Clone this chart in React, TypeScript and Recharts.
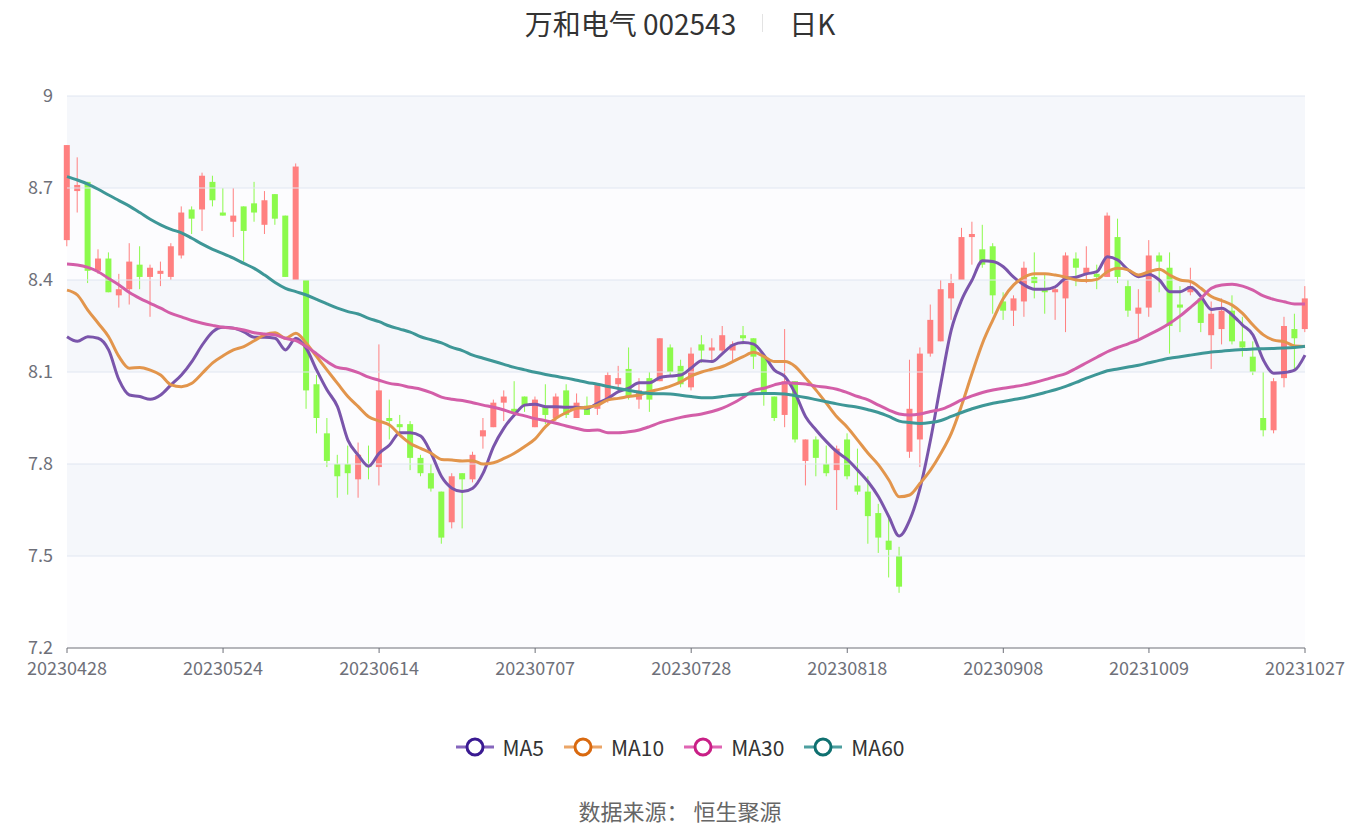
import { ComposedChart, Bar, Line, XAxis, YAxis, ReferenceArea, ReferenceLine } from 'recharts';

const open = [
  8.53, 8.69, 8.72, 8.43, 8.47, 8.35, 8.37, 8.45, 8.41, 8.42,
  8.41, 8.48, 8.63, 8.63, 8.72, 8.62, 8.59, 8.64, 8.65, 8.58,
  8.68, 8.61, 8.40, 8.40, 8.06, 7.90, 7.80, 7.80, 7.75, 7.80,
  7.79, 7.95, 7.93, 7.93, 7.82, 7.77, 7.71, 7.61, 7.77, 7.75,
  7.89, 7.92, 8.00, 7.98, 8.02, 7.92, 7.99, 7.95, 8.04, 7.95,
  7.99, 7.98, 8.01, 8.06, 8.11, 8.01, 8.08, 8.07, 8.18, 8.12,
  8.05, 8.19, 8.17, 8.17, 8.17, 8.22, 8.21, 8.15, 8.02, 7.96,
  8.07, 7.81, 7.88, 7.80, 7.78, 7.88, 7.73, 7.71, 7.64, 7.55,
  7.50, 7.84, 7.88, 8.16, 8.20, 8.34, 8.40, 8.54, 8.50, 8.51,
  8.33, 8.30, 8.33, 8.41, 8.37, 8.36, 8.34, 8.47, 8.42, 8.42,
  8.41, 8.54, 8.38, 8.29, 8.31, 8.48, 8.44, 8.32, 8.36, 8.34,
  8.22, 8.24, 8.30, 8.20, 8.15, 7.95, 7.91, 8.08, 8.24, 8.24,
];
const close = [
  8.84, 8.71, 8.43, 8.47, 8.36, 8.37, 8.46, 8.41, 8.44, 8.43,
  8.51, 8.62, 8.60, 8.74, 8.66, 8.61, 8.61, 8.56, 8.62, 8.66,
  8.60, 8.41, 8.77, 8.04, 7.95, 7.81, 7.76, 7.77, 7.83, 7.79,
  8.04, 7.94, 7.92, 7.82, 7.77, 7.72, 7.56, 7.76, 7.75, 7.83,
  7.91, 8.00, 8.02, 7.97, 7.99, 8.01, 7.96, 8.02, 7.96, 8.00,
  7.96, 8.06, 8.09, 8.08, 8.02, 8.04, 8.01, 8.21, 8.10, 8.06,
  8.16, 8.17, 8.18, 8.22, 8.19, 8.21, 8.15, 8.03, 7.95, 8.07,
  7.88, 7.88, 7.82, 7.77, 7.85, 7.76, 7.71, 7.63, 7.56, 7.52,
  7.40, 7.98, 8.16, 8.27, 8.37, 8.39, 8.54, 8.55, 8.45, 8.35,
  8.30, 8.34, 8.44, 8.39, 8.36, 8.37, 8.48, 8.44, 8.44, 8.41,
  8.61, 8.41, 8.30, 8.31, 8.48, 8.46, 8.25, 8.31, 8.38, 8.26,
  8.29, 8.30, 8.20, 8.18, 8.10, 7.91, 8.07, 8.25, 8.21, 8.34,
];
const high = [
  8.84, 8.80, 8.72, 8.50, 8.49, 8.42, 8.52, 8.51, 8.45, 8.46,
  8.52, 8.64, 8.64, 8.75, 8.74, 8.70, 8.70, 8.64, 8.72, 8.69,
  8.68, 8.61, 8.78, 8.40, 8.09, 7.95, 7.83, 7.86, 7.87, 7.86,
  8.19, 8.01, 7.96, 7.94, 7.83, 7.80, 7.71, 7.77, 7.77, 7.84,
  7.95, 8.01, 8.04, 8.07, 8.02, 8.02, 8.06, 8.03, 8.06, 8.03,
  8.02, 8.06, 8.10, 8.12, 8.18, 8.08, 8.10, 8.21, 8.19, 8.14,
  8.18, 8.22, 8.21, 8.25, 8.20, 8.25, 8.21, 8.15, 8.02, 8.24,
  8.07, 7.88, 7.89, 7.86, 7.86, 7.90, 7.85, 7.76, 7.67, 7.63,
  7.53, 8.14, 8.18, 8.32, 8.40, 8.42, 8.57, 8.59, 8.58, 8.52,
  8.36, 8.35, 8.46, 8.49, 8.42, 8.38, 8.49, 8.49, 8.51, 8.45,
  8.62, 8.60, 8.40, 8.37, 8.53, 8.49, 8.49, 8.38, 8.44, 8.35,
  8.33, 8.34, 8.35, 8.28, 8.20, 8.10, 8.08, 8.28, 8.29, 8.38,
];
const low = [
  8.51, 8.62, 8.39, 8.42, 8.36, 8.31, 8.32, 8.37, 8.28, 8.38,
  8.40, 8.47, 8.55, 8.56, 8.64, 8.61, 8.54, 8.46, 8.59, 8.55,
  8.58, 8.41, 8.40, 7.98, 7.90, 7.79, 7.69, 7.70, 7.69, 7.75,
  7.73, 7.88, 7.90, 7.78, 7.76, 7.71, 7.54, 7.59, 7.59, 7.74,
  7.85, 7.92, 7.94, 7.965, 7.97, 7.92, 7.93, 7.94, 7.95, 7.95,
  7.96, 7.96, 8.00, 8.04, 8.01, 7.98, 7.97, 8.07, 8.09, 8.05,
  8.04, 8.13, 8.13, 8.16, 8.13, 8.19, 8.11, 7.99, 7.94, 7.92,
  7.87, 7.73, 7.76, 7.76, 7.65, 7.75, 7.70, 7.54, 7.51, 7.43,
  7.38, 7.82, 7.79, 8.15, 8.20, 8.27, 8.40, 8.45, 8.44, 8.29,
  8.27, 8.25, 8.28, 8.34, 8.29, 8.27, 8.23, 8.38, 8.39, 8.37,
  8.41, 8.39, 8.28, 8.21, 8.28, 8.36, 8.16, 8.23, 8.35, 8.23,
  8.11, 8.19, 8.19, 8.15, 8.09, 7.89, 7.90, 8.05, 8.11, 8.23,
];

const ma5 = [
  8.215, 8.2, 8.215, 8.21, 8.172, 8.074, 8.025, 8.02, 8.011, 8.025,
  8.058, 8.09, 8.134, 8.188, 8.231, 8.246, 8.243, 8.231, 8.213, 8.213,
  8.21, 8.172, 8.21, 8.177, 8.106, 8.041, 7.987, 7.878, 7.829, 7.793,
  7.835, 7.862, 7.902, 7.902, 7.891, 7.835, 7.759, 7.721, 7.71, 7.721,
  7.77, 7.857, 7.917, 7.96, 7.992, 7.995, 7.987, 7.987, 7.985, 7.985,
  7.982, 7.998, 8.014, 8.036, 8.047, 8.065, 8.065, 8.082, 8.087, 8.09,
  8.113, 8.137, 8.134, 8.16, 8.188, 8.196, 8.191, 8.155, 8.106, 8.085,
  8.03, 7.954, 7.911, 7.873, 7.84, 7.815, 7.78, 7.742, 7.693, 7.628,
  7.565, 7.617, 7.721, 7.878, 8.063, 8.237, 8.335, 8.4, 8.463, 8.46,
  8.443, 8.409, 8.384, 8.37, 8.37, 8.378, 8.405, 8.409, 8.42, 8.427,
  8.476, 8.465, 8.433, 8.411, 8.418, 8.4, 8.362, 8.362, 8.376, 8.346,
  8.304, 8.308, 8.286, 8.253, 8.221, 8.139, 8.096, 8.098, 8.106, 8.155,
];
const ma10 = [
  8.367, 8.351, 8.302, 8.259, 8.215, 8.15, 8.112, 8.115, 8.106, 8.09,
  8.058, 8.052, 8.063, 8.096, 8.13, 8.153, 8.172, 8.183, 8.202, 8.221,
  8.228, 8.21, 8.226, 8.194, 8.15, 8.106, 8.063, 8.02, 7.987, 7.954,
  7.94, 7.927, 7.894, 7.867, 7.851, 7.835, 7.815, 7.813, 7.81, 7.811,
  7.8, 7.804, 7.818, 7.835, 7.857, 7.882, 7.922, 7.949, 7.968, 7.982,
  7.985, 7.992, 8.009, 8.014, 8.02, 8.025, 8.036, 8.044, 8.054, 8.068,
  8.087, 8.1, 8.109, 8.118, 8.134, 8.15, 8.164, 8.15, 8.134, 8.134,
  8.118, 8.08, 8.041, 7.998, 7.954, 7.92, 7.878, 7.835, 7.797, 7.748,
  7.693, 7.699, 7.737, 7.78, 7.835, 7.9, 7.992, 8.096, 8.194, 8.27,
  8.34, 8.384, 8.409, 8.42, 8.42, 8.416, 8.409, 8.4, 8.398, 8.402,
  8.427, 8.438, 8.433, 8.416, 8.427, 8.435, 8.416, 8.4, 8.395, 8.373,
  8.346, 8.333, 8.318, 8.291, 8.253, 8.221, 8.204, 8.199, 8.185, 8.183,
];
const ma30 = [
  8.452, 8.449, 8.441, 8.427, 8.405, 8.384, 8.359, 8.34, 8.324, 8.308,
  8.291, 8.28, 8.268, 8.259, 8.252, 8.246, 8.243, 8.237, 8.228, 8.224,
  8.221, 8.21, 8.202, 8.183, 8.159, 8.134, 8.115, 8.109, 8.098, 8.083,
  8.073, 8.063, 8.058, 8.05, 8.044, 8.033, 8.018, 8.011, 8.007, 8.0,
  7.992, 7.985, 7.976, 7.965, 7.957, 7.948, 7.941, 7.933, 7.924, 7.916,
  7.909, 7.911, 7.902, 7.902, 7.905, 7.911, 7.922, 7.935, 7.944, 7.952,
  7.958, 7.963, 7.971, 7.982, 7.998, 8.018, 8.04, 8.047, 8.058, 8.065,
  8.063, 8.061, 8.054, 8.05, 8.044, 8.033, 8.02, 8.009, 7.992, 7.976,
  7.963, 7.96, 7.963, 7.971, 7.978, 7.992, 8.009, 8.022, 8.033, 8.041,
  8.047, 8.052, 8.058, 8.066, 8.075, 8.085, 8.095, 8.112, 8.13, 8.148,
  8.166, 8.18, 8.192, 8.205, 8.222, 8.239, 8.259, 8.283, 8.311, 8.34,
  8.373, 8.384, 8.386, 8.38, 8.367, 8.348, 8.337, 8.329, 8.322, 8.322,
];
const ma60 = [
  8.737, 8.726, 8.713, 8.696, 8.677, 8.659, 8.641, 8.62, 8.598, 8.58,
  8.565, 8.554, 8.536, 8.517, 8.5, 8.486, 8.471, 8.454, 8.438, 8.416,
  8.392, 8.373, 8.362, 8.351, 8.337, 8.322, 8.308, 8.297, 8.289, 8.275,
  8.264, 8.25, 8.24, 8.23, 8.215, 8.205, 8.195, 8.18, 8.17, 8.155,
  8.145, 8.135, 8.125, 8.115, 8.107, 8.099, 8.092, 8.086, 8.08, 8.073,
  8.066, 8.06, 8.053, 8.046, 8.04, 8.034, 8.03, 8.029, 8.028, 8.024,
  8.02, 8.016, 8.016, 8.02, 8.024, 8.027, 8.029, 8.03, 8.03, 8.028,
  8.023, 8.017, 8.01, 8.003, 7.996, 7.99, 7.985, 7.977, 7.968, 7.955,
  7.94, 7.935, 7.932, 7.935, 7.942, 7.955, 7.968, 7.98, 7.99, 7.998,
  8.004, 8.01, 8.016, 8.024, 8.033, 8.042, 8.053, 8.066, 8.08, 8.092,
  8.104, 8.11, 8.116, 8.122, 8.13, 8.138, 8.145, 8.15, 8.155, 8.16,
  8.165, 8.168, 8.171, 8.173, 8.175, 8.176, 8.177, 8.178, 8.18, 8.184,
];

const tickIdx = [0, 15, 30, 45, 60, 75, 90, 104, 119];
const tickLabels = ['20230428', '20230524', '20230614', '20230707', '20230728', '20230818', '20230908', '20231009', '20231027'];
const yTicks = [7.2, 7.5, 7.8, 8.1, 8.4, 8.7, 9];

const RED = '#ff8080';
const GREEN = '#8cfa4c';
const FONT = '"Noto Sans CJK SC", "Noto Sans", sans-serif';

const legendItems = [
  { key: 'ma5', name: 'MA5', line: '#8666bd', ring: '#3a1a92', stroke: '#7a55ab' },
  { key: 'ma10', name: 'MA10', line: '#eba567', ring: '#d9690f', stroke: '#e2954c' },
  { key: 'ma30', name: 'MA30', line: '#e065b3', ring: '#c91f86', stroke: '#d35ea8' },
  { key: 'ma60', name: 'MA60', line: '#4d9f9f', ring: '#0f7070', stroke: '#3e9797' },
];

const data = open.map((o, i) => ({
  i,
  open: o,
  close: close[i],
  high: high[i],
  low: low[i],
  range: [low[i], high[i]],
  ma5: ma5[i],
  ma10: ma10[i],
  ma30: ma30[i],
  ma60: ma60[i],
}));

function Candle(props: any) {
  const { x, y, width, height, payload } = props;
  const { open: o, close: c, high: h, low: l } = payload;
  const color = c >= o ? RED : GREEN;
  const ppu = height / (h - l);
  const top = y + (h - Math.max(o, c)) * ppu;
  const bh = Math.max(1, Math.abs(o - c) * ppu);
  const cx = x + width / 2;
  return (
    <g>
      <line x1={cx} x2={cx} y1={y} y2={y + height} stroke={color} strokeWidth={1} />
      <rect x={x} y={top} width={width} height={bh} fill={color} />
    </g>
  );
}

export default function App() {
  return (
    <div style={{ position: 'absolute', left: 0, top: 0, width: 1360, height: 828, background: '#fff', fontFamily: FONT }}>
      <div
        style={{
          position: 'absolute',
          top: 3,
          left: 0,
          width: 1360,
          display: 'flex',
          justifyContent: 'center',
          alignItems: 'center',
          fontSize: 28,
          color: '#333',
          height: 40,
        }}
      >
        <span>万和电气 002543</span>
        <span style={{ display: 'inline-block', width: 1, height: 18, background: '#e3e3e3', margin: '0 26px' }} />
        <span>日K</span>
      </div>

      <ComposedChart width={1360} height={828} data={data} margin={{ top: 96, right: 55, bottom: 150, left: 7 }}>
        {yTicks.slice(0, -1).map((t, k) => (
          <ReferenceArea
            key={t}
            y1={t}
            y2={yTicks[k + 1]}
            fill={k % 2 === 0 ? '#fcfcfe' : '#f5f7fb'}
            fillOpacity={1}
            stroke="none"
            ifOverflow="hidden"
          />
        ))}
        {yTicks.slice(1).map((t) => (
          <ReferenceLine key={t} y={t} stroke="#e0e6f1" strokeWidth={1} />
        ))}
        <XAxis
          type="number"
          dataKey="i"
          domain={[0, 119]}
          ticks={tickIdx}
          interval={0}
          tickFormatter={(v: number) => tickLabels[tickIdx.indexOf(v)]}
          axisLine={{ stroke: '#6e7079' }}
          tickLine={{ stroke: '#6e7079' }}
          tickSize={5}
          tickMargin={9}
          tick={{ fill: '#6e7079', fontSize: 18, fontFamily: FONT }}
          height={30}
        />
        <YAxis
          type="number"
          domain={[7.2, 9]}
          ticks={yTicks}
          interval={0}
          axisLine={false}
          tickLine={false}
          tickMargin={8}
          tick={{ fill: '#6e7079', fontSize: 18, fontFamily: FONT }}
          width={60}
        />
        <Bar dataKey="range" barSize={6} shape={<Candle />} isAnimationActive={false} />
        {legendItems.map((it) => (
          <Line
            key={it.key}
            type="monotone"
            dataKey={it.key}
            stroke={it.stroke}
            strokeWidth={3}
            dot={false}
            activeDot={false}
            isAnimationActive={false}
          />
        ))}
      </ComposedChart>

      <div
        style={{
          position: 'absolute',
          top: 732,
          left: 0,
          width: 1360,
          display: 'flex',
          justifyContent: 'center',
          alignItems: 'center',
          gap: 20,
          fontSize: 21,
          color: '#333',
        }}
      >
        {legendItems.map((it) => (
          <div key={it.key} style={{ display: 'flex', alignItems: 'center', gap: 9 }}>
            <svg width={38} height={28}>
              <line x1={0} x2={38} y1={14} y2={14} stroke={it.line} strokeWidth={3} />
              <circle cx={19} cy={14} r={8} fill="#fff" stroke={it.ring} strokeWidth={3} />
            </svg>
            <span>{it.name}</span>
          </div>
        ))}
      </div>

      <div
        style={{
          position: 'absolute',
          top: 794,
          left: 0,
          width: 1360,
          textAlign: 'center',
          fontSize: 22,
          color: '#666',
        }}
      >
        数据来源：&nbsp;恒生聚源
      </div>
    </div>
  );
}
